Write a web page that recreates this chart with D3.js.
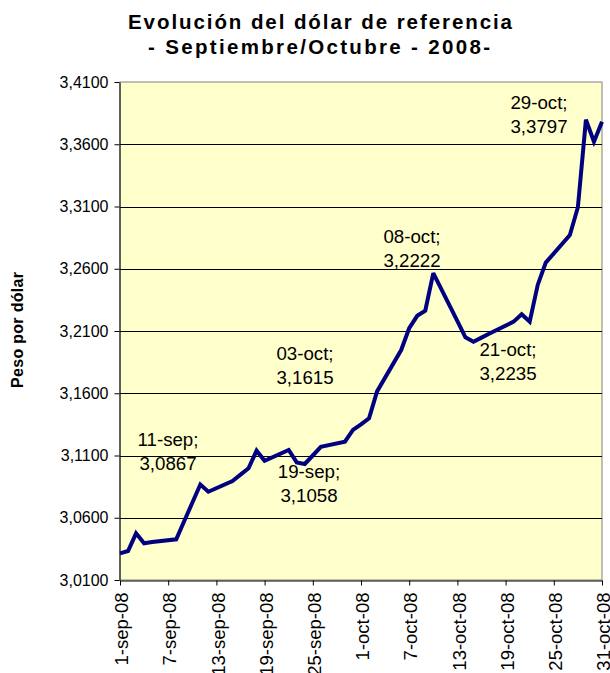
<!DOCTYPE html>
<html>
<head>
<meta charset="utf-8">
<script src="https://cdn.jsdelivr.net/npm/d3@7"></script>
<style>
  html, body { margin: 0; padding: 0; background: #fff; }
  svg { display: block; font-family: "Liberation Sans", Arial, sans-serif; }
</style>
</head>
<body>
<svg id="chart" width="610" height="673"></svg>
<script>
// ---- data ----
const dates = [
  "2008-09-01","2008-09-02","2008-09-03","2008-09-04","2008-09-05",
  "2008-09-08","2008-09-09","2008-09-10","2008-09-11","2008-09-12",
  "2008-09-15","2008-09-16","2008-09-17","2008-09-18","2008-09-19",
  "2008-09-22","2008-09-23","2008-09-24","2008-09-25","2008-09-26",
  "2008-09-29","2008-09-30","2008-10-01","2008-10-02","2008-10-03",
  "2008-10-06","2008-10-07","2008-10-08","2008-10-09","2008-10-10",
  "2008-10-13","2008-10-14","2008-10-15","2008-10-16","2008-10-17",
  "2008-10-20","2008-10-21","2008-10-22","2008-10-23","2008-10-24",
  "2008-10-27","2008-10-28","2008-10-29","2008-10-30","2008-10-31"
];
const values = [
  3.0314, 3.0333, 3.0475, 3.0395, 3.0405,
  3.0427, 3.0574, 3.0720, 3.0867, 3.0809,
  3.0895, 3.0946, 3.0997, 3.1139, 3.1058,
  3.1144, 3.1045, 3.1032, 3.1100, 3.1170,
  3.1211, 3.1305, 3.1350, 3.1399, 3.1615,
  3.1947, 3.2122, 3.2222, 3.2263, 3.2565,
  3.2180, 3.2049, 3.2014, 3.2047, 3.2080,
  3.2175, 3.2235, 3.2175, 3.2470, 3.2649,
  3.2871, 3.3094, 3.3797, 3.3620, 3.3780
];
const xTickDates = ["2008-09-01","2008-09-07","2008-09-13","2008-09-19","2008-09-25",
  "2008-10-01","2008-10-07","2008-10-13","2008-10-19","2008-10-25","2008-10-31"];
const xTickLabels = ["1-sep-08","7-sep-08","13-sep-08","19-sep-08","25-sep-08",
  "1-oct-08","7-oct-08","13-oct-08","19-oct-08","25-oct-08","31-oct-08"];
const yTicks = [3.01, 3.06, 3.11, 3.16, 3.21, 3.26, 3.31, 3.36, 3.41];
const annotationLines1 = ["11-sep;", "19-sep;", "03-oct;", "08-oct;", "21-oct;", "29-oct;"];
const annotationLines2 = ["3,0867", "3,1058", "3,1615", "3,2222", "3,2235", "3,3797"];
const titleLines = ["Evolución del dólar de referencia", "- Septiembre/Octubre - 2008-"];
const yAxisTitle = "Peso por dólar";

// ---- layout ----
const svg = d3.select("#chart");
const pLeft = 120, pRight = 602, pTop = 82, pBottom = 580;
const parse = d3.utcParse("%Y-%m-%d");
const x = d3.scaleUtc().domain([parse("2008-09-01"), parse("2008-10-31")]).range([pLeft, pRight]);
const y = d3.scaleLinear().domain([3.01, 3.41]).range([pBottom, pTop]);
const locale = d3.formatLocale({decimal: ",", thousands: ".", grouping: [3], currency: ["$", ""]});
const fmt = locale.format(".4f");

// plot background
svg.append("rect").attr("x", pLeft).attr("y", pTop)
  .attr("width", pRight - pLeft).attr("height", pBottom - pTop)
  .attr("fill", "#FFFFCC").attr("stroke", "#808080").attr("stroke-width", 1);

// gridlines
svg.append("g").selectAll("line").data(yTicks.slice(1, -1)).join("line")
  .attr("x1", pLeft).attr("x2", pRight)
  .attr("y1", d => Math.round(y(d)) + 0.5).attr("y2", d => Math.round(y(d)) + 0.5)
  .attr("stroke", "#000").attr("stroke-width", 1);

// y axis
const yAxis = svg.append("g").attr("transform", `translate(${pLeft - 0.5},0)`)
  .call(d3.axisLeft(y).tickValues(yTicks).tickFormat(fmt).tickSize(5).tickSizeOuter(0).tickPadding(6));
yAxis.selectAll("text").attr("font-size", 16).attr("fill", "#000")
  .attr("font-family", "'Liberation Sans', Arial, sans-serif");
yAxis.selectAll("line, path").attr("stroke", "#000");

// x axis
const xAxis = svg.append("g").attr("transform", `translate(0,${pBottom + 0.5})`)
  .call(d3.axisBottom(x).tickValues(xTickDates.map(parse))
    .tickFormat((d, i) => xTickLabels[i]).tickSize(5).tickSizeOuter(0));
xAxis.selectAll("line, path").attr("stroke", "#000");
xAxis.selectAll("text")
  .attr("font-size", 18.5).attr("fill", "#000")
  .attr("font-family", "'Liberation Sans', Arial, sans-serif")
  .attr("transform", "rotate(-90)")
  .attr("text-anchor", "end")
  .attr("x", -12).attr("y", 0).attr("dy", "0.42em");

// line
const series = dates.map((d, i) => ({date: parse(d), value: values[i]}));
svg.append("path").datum(series)
  .attr("fill", "none").attr("stroke", "#000080").attr("stroke-width", 4)
  .attr("stroke-linejoin", "miter").attr("stroke-miterlimit", 3)
  .attr("d", d3.line().x(d => x(d.date)).y(d => y(d.value)));

// annotations
const annPos = [[168, 439], [309, 471], [305, 353], [412, 236], [508, 349], [539, 102]];
const ann = svg.append("g").attr("font-size", 18.7).attr("fill", "#000").attr("text-anchor", "middle");
annotationLines1.forEach((t, i) => {
  ann.append("text").attr("x", annPos[i][0]).attr("y", annPos[i][1]).attr("dy", "0.36em").text(t);
  ann.append("text").attr("x", annPos[i][0]).attr("y", annPos[i][1] + 24).attr("dy", "0.36em").text(annotationLines2[i]);
});

// title
const title = svg.append("g").attr("font-weight", "bold").attr("font-size", 20.5).attr("fill", "#000")
  .attr("text-anchor", "middle");
title.append("text").attr("x", 320).attr("y", 29).attr("textLength", 384).attr("lengthAdjust", "spacing").text(titleLines[0]);
title.append("text").attr("x", 319).attr("y", 54).attr("textLength", 342).attr("lengthAdjust", "spacing").text(titleLines[1]);

// y axis title
svg.append("text").attr("transform", "translate(23,330) rotate(-90)")
  .attr("text-anchor", "middle").attr("font-weight", "bold").attr("font-size", 16)
  .attr("textLength", 116).attr("lengthAdjust", "spacing")
  .attr("fill", "#000").text(yAxisTitle);
</script>
</body>
</html>
